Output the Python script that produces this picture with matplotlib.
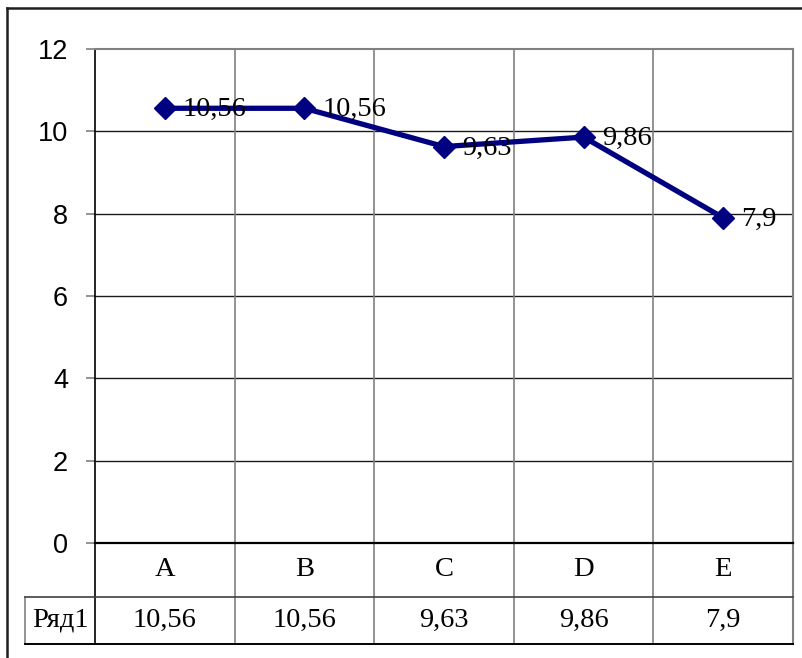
import matplotlib
matplotlib.use("Agg")
import matplotlib.pyplot as plt
from matplotlib.transforms import blended_transform_factory
from matplotlib.lines import Line2D

# Data
categories = ["A", "B", "C", "D", "E"]
values = [10.56, 10.56, 9.63, 9.86, 7.9]
series_name = "Ряд1"
y_ticks = [0, 2, 4, 6, 8, 10, 12]


def fmt(v):
    s = f"{v:.2f}".rstrip("0").rstrip(".")
    return s.replace(".", ",")


W, H = 803, 658
fig = plt.figure(figsize=(W / 100, H / 100), dpi=100)
fig.patch.set_facecolor("white")

# Plot area in pixel units
left, right, top, bottom = 95, 793, 49, 543
ax = fig.add_axes([left / W, 1 - bottom / H, (right - left) / W, (bottom - top) / H])
ax.set_xlim(-0.5, len(categories) - 0.5)
ax.set_ylim(0, 12)

serif = ["Liberation Serif", "DejaVu Serif"]
sans = ["Liberation Sans", "DejaVu Sans"]
serif_size = 20.5

# Horizontal gridlines
for t in y_ticks[1:-1]:
    ax.axhline(t, color="#1a1a1a", lw=1.0, zorder=1)

ax.spines["left"].set_color("black")
ax.spines["bottom"].set_color("black")
ax.spines["left"].set_linewidth(1.2)
ax.spines["bottom"].set_linewidth(1.6)
ax.spines["top"].set_color("#808080")
ax.spines["right"].set_color("#808080")
ax.spines["top"].set_linewidth(1.5)
ax.spines["right"].set_linewidth(1.5)

ax.set_yticks(y_ticks)
ax.set_yticklabels([str(t) for t in y_ticks], fontfamily=sans, fontsize=19.5)
ax.tick_params(axis="y", length=6.5, width=1.2, pad=13, color="#808080")
ax.set_xticks([])

# Data table beneath the plot
ph = bottom - top
cat_row_y = -(597 - bottom) / ph
data_row_y = -(644 - bottom) / ph
col_w = (right - left) / len(categories)
label_left = -0.5 - (left - 25) / col_w
trans = blended_transform_factory(ax.transData, ax.transAxes)

# Vertical separators between categories, through plot and table
for k in range(1, len(categories)):
    x = -0.5 + k
    ax.add_line(Line2D([x, x], [data_row_y, 1], transform=trans, color="#808080",
                       lw=1.2, clip_on=False, zorder=1))
# Right edge through table
ax.add_line(Line2D([len(categories) - 0.5] * 2, [data_row_y, 0], transform=trans,
                   color="#808080", lw=1.5, clip_on=False))
# Left axis extended through table
ax.add_line(Line2D([-0.5, -0.5], [data_row_y, 0], transform=trans,
                   color="black", lw=1.2, clip_on=False))
# Series label cell left edge
ax.add_line(Line2D([label_left, label_left], [data_row_y, cat_row_y], transform=trans,
                   color="#808080", lw=1.2, clip_on=False))
# Row separators
ax.add_line(Line2D([label_left, len(categories) - 0.5], [cat_row_y, cat_row_y],
                   transform=trans, color="#404040", lw=1.2, clip_on=False))
ax.add_line(Line2D([label_left, len(categories) - 0.5], [data_row_y, data_row_y],
                   transform=trans, color="black", lw=1.4, clip_on=False))

for i, (c, v) in enumerate(zip(categories, values)):
    ax.text(i, cat_row_y / 2, c, transform=trans, ha="center", va="center",
            fontfamily=serif, fontsize=serif_size)
    ax.text(i, (cat_row_y + data_row_y) / 2, fmt(v), transform=trans, ha="center",
            va="center", fontfamily=serif, fontsize=serif_size)
ax.text((label_left - 0.5) / 2, (cat_row_y + data_row_y) / 2, series_name,
        transform=trans, ha="center", va="center", fontfamily=serif, fontsize=serif_size)

# Series line with diamond markers
xs = list(range(len(categories)))
ax.plot(xs, values, color="#000080", lw=3.8, marker="D", markersize=11.5,
        markerfacecolor="#000080", markeredgecolor="#000080", zorder=3, clip_on=False)

for x, v in zip(xs, values):
    ax.annotate(fmt(v), (x, v), xytext=(13, -1), textcoords="offset points",
                ha="left", va="center", fontfamily=serif, fontsize=serif_size, zorder=4)

# Outer chart frame (left and top edges visible)
fig.add_artist(Line2D([7 / W, 7 / W], [0, 1 - 8 / H], transform=fig.transFigure,
                      color="#202020", lw=1.8))
fig.add_artist(Line2D([7 / W, 1], [1 - 8 / H, 1 - 8 / H], transform=fig.transFigure,
                      color="#202020", lw=1.8))

fig.savefig("out.png", dpi=100, facecolor="white")
